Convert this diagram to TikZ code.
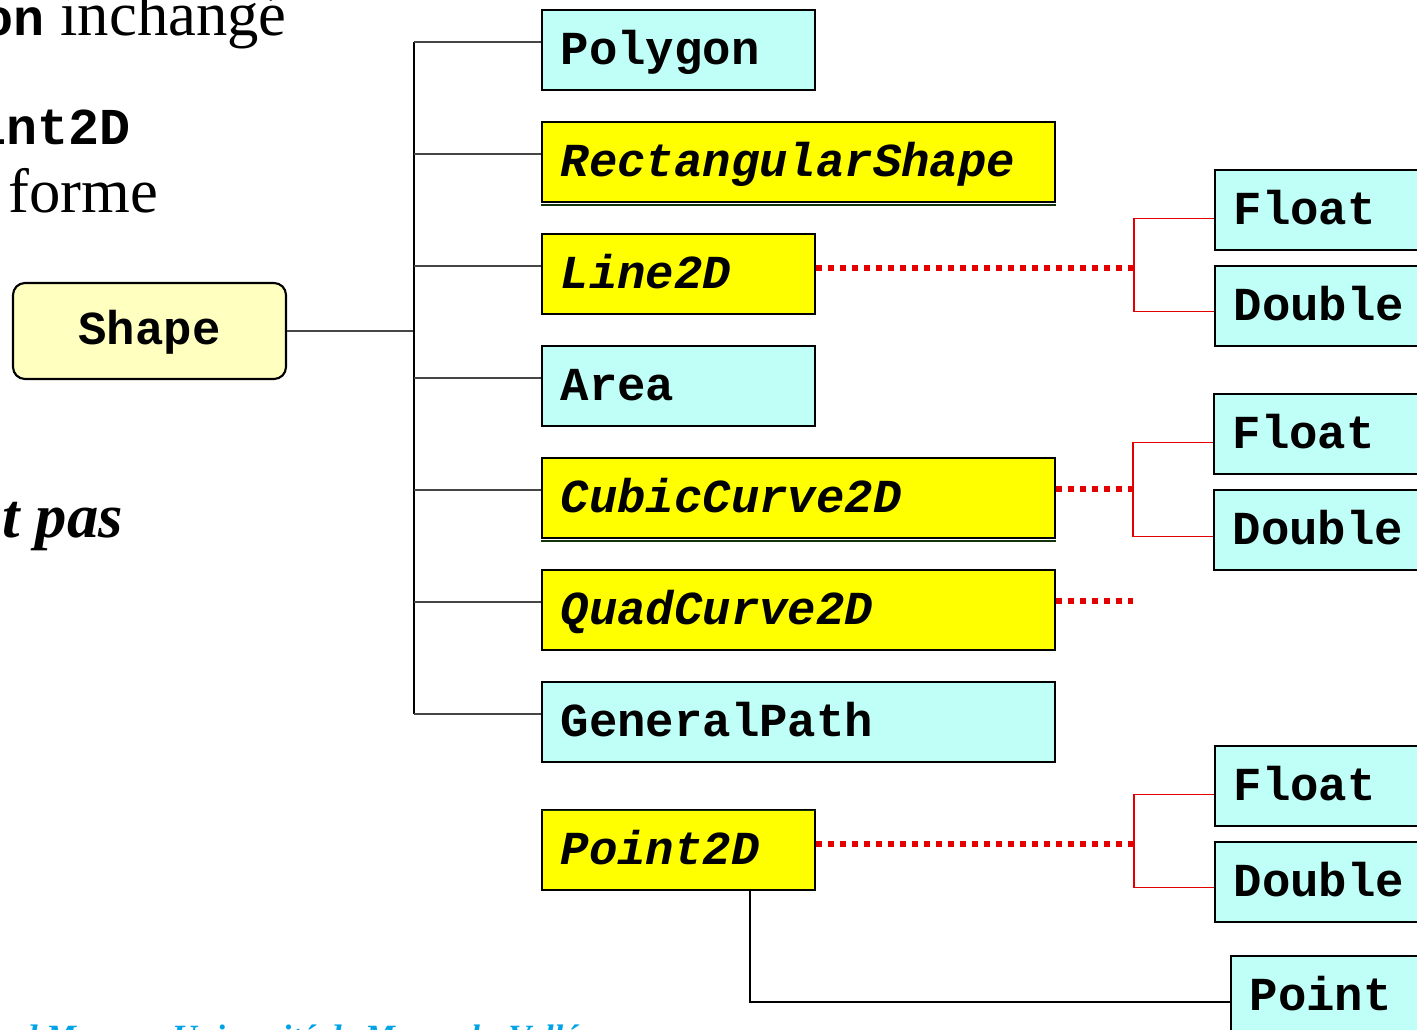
\documentclass[tikz,border=0pt]{standalone}
\usepackage{fontspec}
\setmainfont{Liberation Serif}
\setmonofont{Liberation Mono}
\usetikzlibrary{calc}
\definecolor{boxcyan}{RGB}{192,255,248}
\definecolor{boxyellow}{RGB}{255,255,0}
\definecolor{paleyellow}{RGB}{255,255,192}
\definecolor{linkred}{RGB}{226,0,0}
\definecolor{footblue}{RGB}{0,163,230}
\definecolor{shadowgreen}{RGB}{20,50,10}
\newcommand{\boxfont}{\fontsize{35.5}{40}\selectfont\ttfamily\bfseries}
\newcommand{\slidefont}{\fontsize{47}{56}\selectfont}
\newcommand{\slidemono}{\fontsize{38.8}{44}\selectfont\ttfamily\bfseries}
\begin{document}
\begin{tikzpicture}[x=0.75pt, y=-0.75pt,
    classbox/.style={draw=black, line width=1.6pt, rectangle, anchor=north west,
        minimum height=60pt, inner xsep=14pt, inner ysep=0pt,
        text height=27pt, text depth=6pt, font=\boxfont, align=left},
    narrow/.style={text width=176.75pt},
    wide/.style={text width=356.75pt},
    leaf/.style={text width=170pt},
    concrete/.style={classbox, fill=boxcyan},
    abstract/.style={classbox, fill=boxyellow, font=\boxfont\itshape},
    treeline/.style={draw=gray!55!black, line width=0.9pt},
    dotlink/.style={draw=linkred, line width=4.5pt, dash pattern=on 4.5pt off 4.5pt},
    redlink/.style={draw=linkred, line width=0.8pt},
    shadowline/.style={draw=shadowgreen, line width=1.4pt},
    slidetext/.style={inner sep=0pt, font=\slidefont}]
    \useasboundingbox (0,0) rectangle (1417,1030);
    %\draw [help lines, step=100] (0,0) grid (1417,1030);

    % left text, cut by the border
    \node [slidetext, anchor=base east] (txtone) at (287,36) {{\slidemono on} inchangé};
    \node [slidetext, anchor=base east, font=\slidemono] (txttwo) at (131,145) {Point2D};
    \node [slidetext, anchor=base west] (txtthree) at (8,213) {forme};
    \node [slidetext, anchor=base east, font=\slidefont\bfseries\itshape] (txtfour) at (123,537) {t pas};
    \node [inner sep=0pt, anchor=base west, text=footblue, font=\fontsize{25.5}{30}\selectfont\bfseries\itshape] (footone) at (20,1048) {d M};
    \node [inner sep=0pt, anchor=base west, text=footblue, font=\fontsize{25.5}{30}\selectfont\bfseries\itshape] (foottwo) at (172,1048) {Université de Marne-la-Vallée};

    % root
    \node [draw=black, line width=1.6pt, fill=paleyellow, rounded corners=9pt,
        minimum width=204.75pt, minimum height=72pt, inner sep=0pt,
        text height=27pt, text depth=6pt, font=\boxfont] (shape) at (149.5,331) {Shape};

    % subclasses
    \node [concrete, narrow] (polygon) at (541,9) {Polygon};
    \node [abstract, wide] (rectshape) at (541,121) {RectangularShape};
    \node [abstract, narrow] (line) at (541,233) {Line2D};
    \node [concrete, narrow] (area) at (541,345) {Area};
    \node [abstract, wide] (cubic) at (541,457) {CubicCurve2D};
    \node [abstract, wide] (quad) at (541,569) {QuadCurve2D};
    \node [concrete, wide] (genpath) at (541,681) {GeneralPath};
    \node [abstract, narrow] (ptwod) at (541,809) {Point2D};
    \draw [shadowline] ([yshift=-1.1pt]rectshape.south west) -- ([yshift=-1.1pt]rectshape.south east);
    \draw [shadowline] ([yshift=-1.1pt]cubic.south west) -- ([yshift=-1.1pt]cubic.south east);
    \draw [shadowline] ([yshift=-1.1pt]ptwod.north west) -- ([yshift=-1.1pt]ptwod.north east);

    % inner classes
    \node [concrete, leaf] (floatone) at (1214,169) {Float};
    \node [concrete, leaf] (doubleone) at (1214,265) {Double};
    \node [concrete, leaf] (floattwo) at (1213,393) {Float};
    \node [concrete, leaf] (doubletwo) at (1213,489) {Double};
    \node [concrete, leaf] (floatthree) at (1214,745) {Float};
    \node [concrete, leaf] (doublethree) at (1214,841) {Double};
    \node [concrete, leaf] (point) at (1230,955) {Point};

    % tree
    \draw [treeline] (shape.east) -- ++(127,0) coordinate (fork);
    \draw [draw=black, line width=0.9pt] ([yshift=6pt]fork |- polygon.west) -- ([yshift=6pt]fork |- genpath.west);
    \foreach \n in {polygon,rectshape,line,area,cubic,quad,genpath}
        \draw [treeline] ([yshift=6pt]fork |- \n.west) -- ([yshift=6pt]\n.west);

    % red links
    \coordinate (jone) at (1134,268);
    \coordinate (jtwo) at (1133,489);
    \coordinate (jthree) at (1133,601);
    \coordinate (jfour) at (1134,844);
    \draw [dotlink] (line.east |- jone) -- (jone);
    \draw [dotlink] (cubic.east |- jtwo) -- (jtwo);
    \draw [dotlink] (quad.east |- jthree) -- (jthree);
    \draw [dotlink] (ptwod.east |- jfour) -- (jfour);
    \draw [redlink] ([yshift=-6pt]floatone.west) -| (jone) |- ([yshift=-3.75pt]doubleone.west);
    \draw [redlink] ([yshift=-6pt]floattwo.west) -| (jtwo) |- ([yshift=-4.5pt]doubletwo.west);
    \draw [redlink] ([yshift=-6pt]floatthree.west) -| (jfour) |- ([yshift=-3.75pt]doublethree.west);

    % Point2D -- Point
    \draw [draw=black, line width=0.9pt] ([xshift=53.6pt]ptwod.south) |- ([yshift=-4.5pt]point.west);
\end{tikzpicture}
\end{document}
